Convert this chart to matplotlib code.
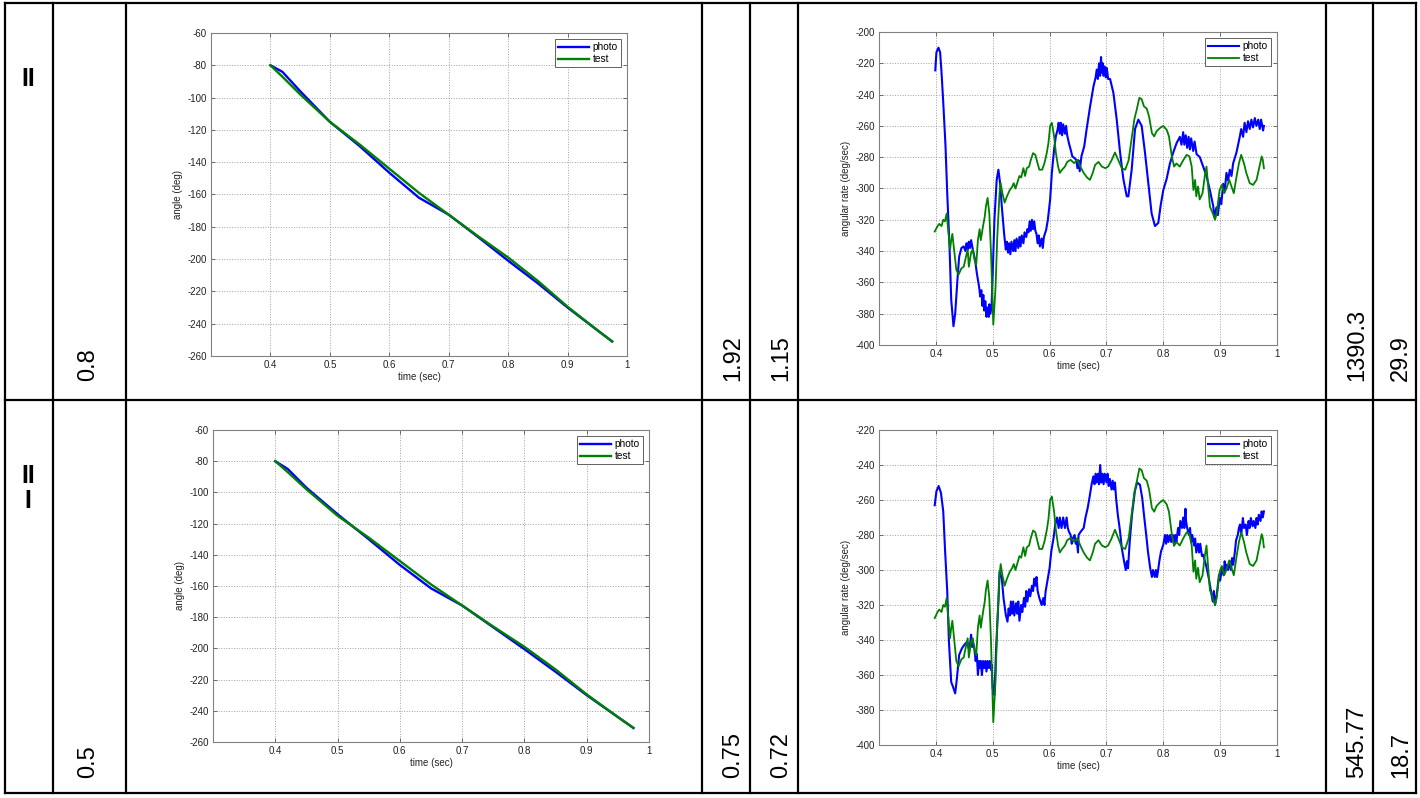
import numpy as np
import matplotlib.pyplot as plt

plt.rcParams['font.family'] = ['Liberation Sans', 'DejaVu Sans']
plt.rcParams['axes.unicode_minus'] = False

# --- table text ---
row_labels = ['II', 'II\nI']
col2_vals = ['0.8', '0.5']
col4_vals = ['1.92', '0.75']
col5_vals = ['1.15', '0.72']
col7_vals = ['1390.3', '545.77']
col8_vals = ['29.9', '18.7']

# --- angle (deg) ---
ang_t = [0.4, 0.42, 0.45, 0.5, 0.55, 0.6, 0.65, 0.7, 0.75, 0.8, 0.85, 0.9, 0.95, 0.975]
ang_photo_1 = [-80, -84, -96, -115, -130, -146.5, -162, -172.5, -186.5, -201, -215, -230, -244, -251]
ang_photo_2 = [-80, -85, -97, -114, -130, -146.5, -161.5, -172.5, -186.5, -200.5, -215, -230, -244, -251]
ang_test = [-80, -87, -98, -115, -129, -144, -159, -172.5, -186, -199, -213.5, -229.5, -244, -251]

# --- angular rate (deg/sec), test ---
rate_test_t = [0.398, 0.403, 0.406, 0.41, 0.413, 0.416, 0.419, 0.421, 0.425, 0.427, 0.429, 0.432,
               0.436, 0.44, 0.445, 0.449, 0.453, 0.456, 0.458, 0.462, 0.465, 0.468, 0.471, 0.474,
               0.477, 0.479, 0.483, 0.486, 0.488, 0.491, 0.494, 0.497, 0.501, 0.505, 0.508, 0.512,
               0.514, 0.517, 0.521, 0.525, 0.53, 0.534, 0.537, 0.54, 0.543, 0.547, 0.55, 0.554,
               0.557, 0.56, 0.564, 0.567, 0.571, 0.575, 0.578, 0.582, 0.587, 0.591, 0.595, 0.598,
               0.601, 0.604, 0.608, 0.611, 0.615, 0.618, 0.622, 0.627, 0.631, 0.637, 0.643, 0.649,
               0.654, 0.66, 0.666, 0.671, 0.676, 0.68, 0.686, 0.692, 0.698, 0.703, 0.709, 0.715,
               0.721, 0.727, 0.733, 0.739, 0.744, 0.749, 0.753, 0.758, 0.762, 0.766, 0.771, 0.775,
               0.78, 0.784, 0.788, 0.794, 0.8, 0.806, 0.81, 0.815, 0.819, 0.823, 0.829, 0.835,
               0.841, 0.846, 0.85, 0.853, 0.856, 0.858, 0.861, 0.864, 0.869, 0.873, 0.876, 0.879,
               0.882, 0.887, 0.891, 0.894, 0.897, 0.899, 0.903, 0.907, 0.911, 0.916, 0.92, 0.924,
               0.929, 0.933, 0.937, 0.942, 0.946, 0.952, 0.958, 0.964, 0.968, 0.973, 0.975, 0.977]
rate_test = [-327.5, -324, -322.6, -324, -320, -321, -316, -324, -339, -333, -329, -339,
             -352, -355, -351, -350, -343.5, -339, -350, -341, -339, -345.6, -348.8, -332.8,
             -326, -333, -324, -318, -311.5, -306, -316, -341, -387, -363, -331, -303,
             -296.6, -303, -309, -305, -301, -299, -296.6, -300, -296.6, -292, -293, -287,
             -292, -287, -286, -281.7, -277.4, -278.5, -282.7, -288, -288, -283.8, -277.4, -271,
             -260, -258, -266.7, -277, -286, -290, -288, -286, -283, -281.7, -283.8, -281.7,
             -286, -290, -293, -294.5, -290, -285, -283, -286, -287, -286, -282, -277,
             -282, -287, -288, -282, -269, -256, -250, -242, -243, -247.5, -249, -254,
             -264.6, -266.7, -263.5, -261.4, -260, -262.5, -266.7, -279.5, -286, -284, -286, -282,
             -278.5, -279.5, -286, -301, -294.5, -305, -298.7, -307, -303, -292, -286, -298.7,
             -311.5, -315.8, -320, -315.8, -307, -301, -297.7, -303, -300, -294.5, -298.7, -303,
             -292, -284, -278.5, -284, -290, -296.6, -297.7, -294.5, -288, -279.5, -281.7, -287]

# --- angular rate, photo, row II ---
rate_photo_1_t = [0.399, 0.401, 0.4046, 0.4075, 0.41, 0.413, 0.417, 0.42, 0.424, 0.427, 0.431, 0.434,
                  0.438, 0.441, 0.445, 0.449, 0.452, 0.454, 0.456, 0.458, 0.46, 0.462, 0.465, 0.469,
                  0.472, 0.476, 0.478, 0.48, 0.482, 0.4835, 0.485, 0.487, 0.489, 0.491, 0.493, 0.494,
                  0.496, 0.498, 0.5, 0.503, 0.507, 0.51, 0.513, 0.516, 0.52, 0.523, 0.525, 0.527,
                  0.529, 0.531, 0.533, 0.536, 0.538, 0.54, 0.542, 0.545, 0.547, 0.549, 0.551, 0.554,
                  0.556, 0.559, 0.561, 0.563, 0.565, 0.567, 0.569, 0.571, 0.573, 0.575, 0.577, 0.579,
                  0.581, 0.583, 0.586, 0.588, 0.59, 0.594, 0.597, 0.601, 0.604, 0.608, 0.611, 0.614,
                  0.616, 0.618, 0.62, 0.622, 0.624, 0.627, 0.629, 0.631, 0.634, 0.637, 0.64, 0.644,
                  0.647, 0.649, 0.651, 0.653, 0.656, 0.661, 0.665, 0.6713, 0.6772, 0.681, 0.683, 0.685,
                  0.687, 0.6889, 0.6905, 0.692, 0.6935, 0.695, 0.697, 0.699, 0.7006, 0.703, 0.7064, 0.7123,
                  0.7181, 0.724, 0.7298, 0.7357, 0.7386, 0.7444, 0.7503, 0.7561, 0.762, 0.7678, 0.7737, 0.7795,
                  0.7854, 0.7912, 0.7953, 0.8, 0.8058, 0.8117, 0.8175, 0.8234, 0.8292, 0.832, 0.835, 0.837,
                  0.8395, 0.842, 0.8445, 0.8468, 0.849, 0.8526, 0.855, 0.8585, 0.8643, 0.8702, 0.876, 0.8819,
                  0.8877, 0.89, 0.8936, 0.896, 0.8994, 0.902, 0.9053, 0.908, 0.9111, 0.914, 0.917, 0.92,
                  0.9228, 0.9287, 0.9345, 0.937, 0.9404, 0.943, 0.9462, 0.949, 0.9521, 0.955, 0.9579, 0.961,
                  0.9638, 0.967, 0.9696, 0.972, 0.9755, 0.977]
rate_photo_1 = [-224.5, -213, -210, -213, -226, -245, -273, -303, -337, -371, -388, -380,
                -358, -343.5, -338, -337, -340, -335, -339, -334, -338, -333, -339, -345.6,
                -354, -362.7, -369, -365, -375, -368, -378, -372, -382, -376, -382, -374,
                -380, -375, -354, -320, -294.5, -288, -296.6, -311.5, -328.6, -339, -334, -341,
                -335, -342, -334, -340, -333, -340, -332, -338, -331, -337, -330, -335,
                -328, -331, -326, -328, -321, -327, -320, -326, -321, -327, -329, -335,
                -330, -337, -332, -338, -331, -326.4, -320, -307, -290, -275, -266.7, -262.5,
                -258, -265, -258, -266, -259, -265, -260, -266, -271, -275, -279.5, -280.6,
                -281.7, -287, -282, -289, -279.5, -273, -262.5, -247.5, -234.8, -229, -224, -230,
                -220, -228, -216, -226, -220, -228, -222, -229, -223, -230, -230, -239,
                -256, -277, -294, -305, -305, -288, -262, -256, -260, -277, -297, -316,
                -324, -322, -311, -301, -294, -284, -277, -271, -267, -272, -264, -272,
                -266, -274, -267, -275, -268, -276, -270, -278, -280, -286, -292, -301,
                -311, -318, -312, -317, -306, -310, -297, -302, -290, -295, -288, -292,
                -284, -277, -267, -262, -267, -258, -264, -257, -262, -256, -261, -255,
                -260, -256, -262, -256, -263, -260]

# --- angular rate, photo, row III ---
rate_photo_2_t = [0.398, 0.401, 0.405, 0.409, 0.413, 0.416, 0.42, 0.423, 0.427, 0.43, 0.434, 0.437,
                  0.441, 0.446, 0.45, 0.455, 0.458, 0.46, 0.462, 0.464, 0.467, 0.47, 0.472, 0.474,
                  0.476, 0.477, 0.479, 0.481, 0.483, 0.485, 0.487, 0.489, 0.491, 0.493, 0.495, 0.497,
                  0.498, 0.5, 0.503, 0.506, 0.51, 0.512, 0.516, 0.519, 0.523, 0.526, 0.528, 0.53,
                  0.532, 0.534, 0.536, 0.538, 0.541, 0.543, 0.545, 0.547, 0.55, 0.552, 0.555, 0.557,
                  0.559, 0.561, 0.564, 0.566, 0.569, 0.571, 0.573, 0.575, 0.577, 0.579, 0.582, 0.586,
                  0.589, 0.591, 0.593, 0.596, 0.6, 0.603, 0.607, 0.61, 0.613, 0.616, 0.618, 0.621,
                  0.624, 0.627, 0.63, 0.632, 0.634, 0.637, 0.639, 0.641, 0.644, 0.646, 0.648, 0.65,
                  0.651, 0.655, 0.66, 0.663, 0.667, 0.67, 0.674, 0.677, 0.679, 0.681, 0.683, 0.685,
                  0.687, 0.689, 0.691, 0.693, 0.695, 0.697, 0.7, 0.702, 0.704, 0.706, 0.709, 0.711,
                  0.713, 0.715, 0.717, 0.72, 0.724, 0.727, 0.731, 0.734, 0.736, 0.738, 0.741, 0.745,
                  0.75, 0.754, 0.759, 0.763, 0.766, 0.77, 0.773, 0.777, 0.78, 0.782, 0.785, 0.787,
                  0.789, 0.791, 0.793, 0.796, 0.8, 0.803, 0.805, 0.807, 0.809, 0.812, 0.814, 0.817,
                  0.819, 0.821, 0.823, 0.826, 0.828, 0.83, 0.833, 0.835, 0.837, 0.839, 0.84, 0.842,
                  0.845, 0.847, 0.849, 0.851, 0.854, 0.856, 0.858, 0.861, 0.863, 0.865, 0.868, 0.87,
                  0.875, 0.88, 0.884, 0.887, 0.889, 0.891, 0.894, 0.898, 0.9, 0.903, 0.906, 0.908,
                  0.91, 0.912, 0.914, 0.917, 0.919, 0.921, 0.923, 0.926, 0.928, 0.931, 0.933, 0.935,
                  0.937, 0.94, 0.942, 0.945, 0.947, 0.95, 0.952, 0.954, 0.957, 0.959, 0.962, 0.964,
                  0.966, 0.968, 0.971, 0.973, 0.975, 0.977]
rate_photo_2 = [-263, -255, -252, -256, -266.5, -287.5, -312, -341, -364, -366.6, -370.5, -362,
                -348.5, -344.7, -342.8, -341, -345, -342.8, -337, -344, -342.8, -352, -348, -360,
                -352, -356, -352, -360, -352, -356, -352, -358, -352, -356, -352, -357,
                -354, -367.6, -371.4, -344.7, -318, -301, -304.7, -316, -325.6, -329.5, -322, -326,
                -318, -325, -318, -326, -319, -325, -318, -329, -320, -324, -316, -321,
                -312, -318, -311, -315, -309, -312, -305, -309, -304, -312, -316, -320,
                -316, -320, -312.3, -306.6, -299, -289.4, -281.8, -274, -270, -276, -270, -276,
                -270, -276, -270, -276, -278, -280, -285, -281.8, -280, -285, -283.7, -290,
                -280, -278, -276, -270.3, -264.6, -259, -251, -246.5, -251, -245, -250, -245,
                -251, -240, -250, -245, -251, -245, -250, -245, -252, -248, -254, -249,
                -254, -250, -259, -268.4, -278, -287.5, -295, -300, -295, -299, -283.7, -268.4,
                -255, -250, -251.3, -259, -268.4, -280, -289.4, -299, -304, -300, -304, -300,
                -304, -300, -295, -289.4, -285.6, -280, -285, -280, -284, -280, -284, -280,
                -286, -280, -284, -276, -280, -272, -276, -270, -276, -265, -272, -276,
                -280, -276, -284, -280, -286, -282, -290, -285, -290, -285, -292, -291.3,
                -297, -304.7, -312.3, -318, -312, -320, -314.2, -302.8, -306, -299, -303, -295,
                -300, -297, -300, -295, -300, -293.2, -297, -289.4, -283, -280, -276, -274,
                -280, -270.3, -276, -274, -280, -272, -276, -270.3, -275, -272, -276, -270.3,
                -274, -268.4, -272, -266.5, -270, -266.5]

W, H = 1420, 798
BLUE = '#0000ff'
GREEN = '#008000'


def px_rect(left, right, top, bottom):
    return [left / W, 1 - bottom / H, (right - left) / W, (bottom - top) / H]


def style(ax, ylim, ylabel):
    ax.set_xlim(0.3, 1)
    ax.set_xticks([0.4, 0.5, 0.6, 0.7, 0.8, 0.9, 1.0])
    ax.set_xticklabels(['0.4', '0.5', '0.6', '0.7', '0.8', '0.9', '1'])
    ax.set_ylim(*ylim)
    ax.set_yticks(np.arange(ylim[0], ylim[1] + 1, 20))
    ax.grid(True, linestyle=':', color='#a0a0a0', linewidth=0.7)
    ax.tick_params(direction='in', length=3, width=0.6, color='#555555',
                   labelsize=7, labelcolor='#222222', top=True, right=True, pad=3)
    for s in ax.spines.values():
        s.set_color('#808080')
        s.set_linewidth(0.8)
    ax.set_xlabel('time (sec)', fontsize=7, labelpad=1, color='#222222')
    ax.set_ylabel(ylabel, fontsize=7, labelpad=3, color='#222222')
    leg = ax.legend(loc='upper right', fontsize=7.3, handlelength=3.0, handletextpad=0.4,
                    borderpad=0.3, labelspacing=0.2, fancybox=False, framealpha=1,
                    borderaxespad=0.6)
    leg.get_frame().set_edgecolor('#606060')
    leg.get_frame().set_linewidth(0.7)


fig = plt.figure(figsize=(W / 100, H / 100), dpi=100)

# table grid
bg = fig.add_axes([0, 0, 1, 1])
bg.set_xlim(0, W)
bg.set_ylim(H, 0)
bg.axis('off')
x0, x1, y0, y1 = 5, 1416, 3, 793
for y in [y0, 400, y1]:
    bg.plot([x0, x1], [y, y], color='black', lw=1.6, solid_capstyle='projecting')
for x in [x0, 53, 126, 702, 750, 798, 1326, 1373, x1]:
    bg.plot([x, x], [y0, y1], color='black', lw=1.6, solid_capstyle='projecting')

row_tops = [3, 400]
row_bottoms = [381, 778]
for i in range(2):
    bg.text(28, row_tops[i] + 64, row_labels[i], fontsize=18, fontweight='bold',
            ha='center', va='top', linespacing=1.05)
    for xc, vals in [(88, col2_vals), (733, col4_vals), (781, col5_vals),
                     (1357, col7_vals), (1401, col8_vals)]:
        bg.text(xc, row_bottoms[i], vals[i], fontsize=17, rotation=90,
                ha='center', va='bottom')

# angle plots
ax1 = fig.add_axes(px_rect(211, 627, 33, 356))
ax1.plot(ang_t, ang_photo_1, color=BLUE, lw=1.7, label='photo')
ax1.plot(ang_t, ang_test, color=GREEN, lw=1.7, label='test')
style(ax1, (-260, -60), 'angle (deg)')

ax3 = fig.add_axes(px_rect(213, 649, 430, 742))
ax3.plot(ang_t, ang_photo_2, color=BLUE, lw=1.7, label='photo')
ax3.plot(ang_t, ang_test, color=GREEN, lw=1.7, label='test')
style(ax3, (-260, -60), 'angle (deg)')

# angular rate plots
ax2 = fig.add_axes(px_rect(879, 1277, 32, 345))
ax2.plot(rate_photo_1_t, rate_photo_1, color=BLUE, lw=1.5, label='photo')
ax2.plot(rate_test_t, rate_test, color=GREEN, lw=1.3, label='test')
style(ax2, (-400, -200), 'angular rate (deg/sec)')

ax4 = fig.add_axes(px_rect(879, 1277, 430, 745))
ax4.plot(rate_photo_2_t, rate_photo_2, color=BLUE, lw=1.5, label='photo')
ax4.plot(rate_test_t, rate_test, color=GREEN, lw=1.3, label='test')
style(ax4, (-400, -220), 'angular rate (deg/sec)')

fig.savefig('out.png', dpi=100)
